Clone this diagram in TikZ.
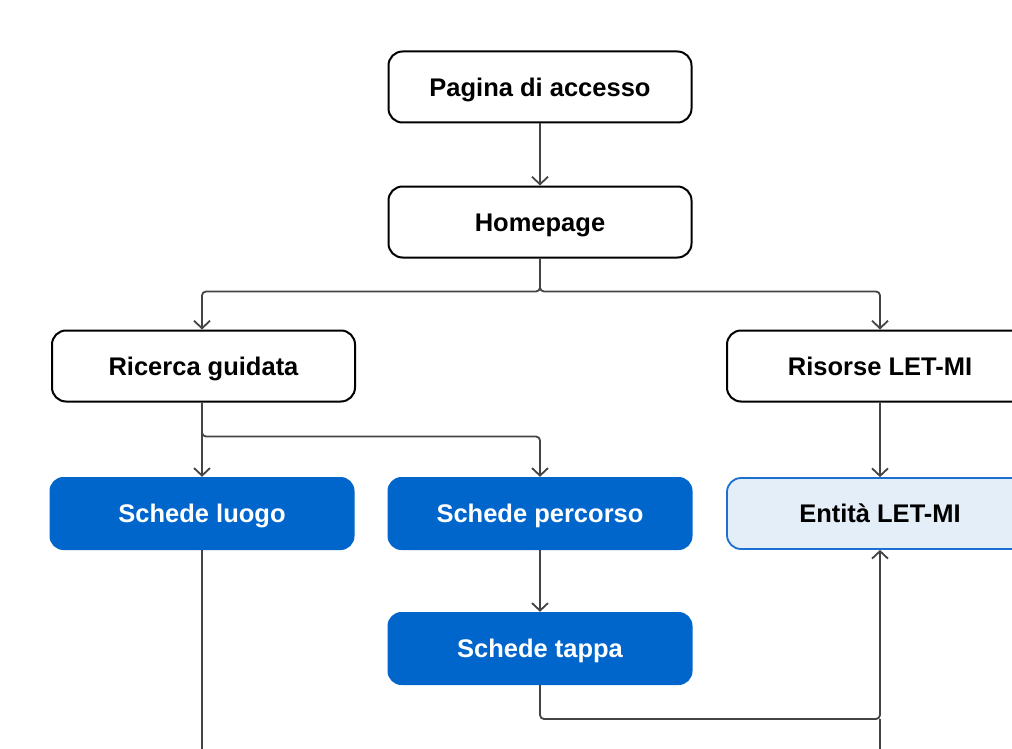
\documentclass[tikz,border=0pt]{standalone}
\usepackage{fontspec}
\setmainfont{Liberation Sans}
\usetikzlibrary{arrows.meta}
\definecolor{lineg}{HTML}{444444}
\definecolor{bluef}{HTML}{0066CC}
\definecolor{lightf}{HTML}{E4EEF9}
\definecolor{blueb}{HTML}{1A6FD0}
\begin{document}
\begin{tikzpicture}[x=1pt,y=-1pt,
 box/.style={rectangle, rounded corners=14pt, minimum width=303pt, minimum height=71pt,
   font=\fontsize{25.5}{28}\selectfont\bfseries, inner sep=0pt, text height=18.3pt, text depth=0pt},
 plain/.style={box, draw=black, line width=2pt, fill=white},
 bluebox/.style={box, fill=bluef, text=white, minimum width=305pt, minimum height=73pt},
 lightbox/.style={box, draw=blueb, line width=1.8pt, fill=lightf},
 line/.style={draw=lineg, line width=1.8pt, rounded corners=4pt},
 conn/.style={line, -{Straight Barb[length=7.5pt,width=16pt,line width=1.8pt]}}]
\useasboundingbox (0,0) rectangle (1012,749);
\clip (0,0) rectangle (1012,749);
\node[plain] (pa) at (540,87) {Pagina di accesso};
\node[plain] (hp) at (540,222) {Homepage};
\node[plain] (rg) at (203.5,366) {Ricerca guidata};
\node[plain, minimum width=306pt] (rl) at (880,366) {Risorse LET-MI};
\node[bluebox] (sl) at (202,513.5) {Schede luogo};
\node[bluebox] (sp) at (540,513.5) {Schede percorso};
\node[lightbox, minimum width=306pt] (en) at (880,513.5) {Entità LET-MI};
\node[bluebox] (st) at (540,648.5) {Schede tappa};
\coordinate (j) at (880,719);
\coordinate (bl) at (202,760);
\coordinate (br) at (880,760);
\draw[conn] (pa.south) -- (hp.north);
\draw[conn] (hp.south) -- ++(0,33) -| (rg.north -| 202,0);
\draw[conn] (hp.south) -- ++(0,33) -| (rl.north);
\draw[conn] (rg.south -| 202,0) -- (sl.north);
\draw[conn] (rg.south -| 202,0) -- ++(0,34) -| (sp.north);
\draw[conn] (rl.south) -- (en.north);
\draw[conn] (sp.south) -- (st.north);
\draw[conn] (st.south) |- (j) -- (en.south);
\draw[line] (br) -- (j);
\draw[line] (sl.south) -- (bl);
\end{tikzpicture}
\end{document}
